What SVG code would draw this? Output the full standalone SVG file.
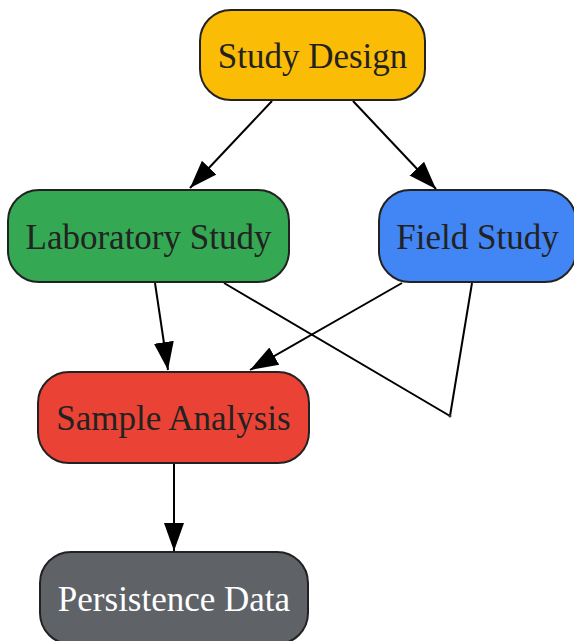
<svg xmlns="http://www.w3.org/2000/svg" width="574" height="641" viewBox="0 0 574 641">
<style>
.n rect{stroke:#222;stroke-width:2}
.n text{font-family:"Liberation Serif","Times New Roman",serif;font-size:35px;text-anchor:middle;fill:#222}
.e line{stroke:#000;stroke-width:2;fill:none}
</style>
<defs>
<marker id="ah" markerUnits="userSpaceOnUse" markerWidth="28" markerHeight="22" refX="28" refY="11" orient="auto" viewBox="0 0 28 22">
<path d="M0,1 L28,11 L0,21 z" fill="#000"/>
</marker>
</defs>
<rect width="574" height="641" fill="#fff"/>
<g class="e" id="edges">
<line x1="272" y1="101" x2="190" y2="188" marker-end="url(#ah)"/>
<line x1="353" y1="101" x2="436" y2="189" marker-end="url(#ah)"/>
<line x1="155" y1="283" x2="168" y2="370" marker-end="url(#ah)"/>
<line x1="402" y1="283" x2="250" y2="370" marker-end="url(#ah)"/>
<line x1="224" y1="283" x2="450" y2="416"/>
<line x1="472" y1="283" x2="450" y2="416"/>
<circle cx="450" cy="416" r="1.5" fill="#333"/>
<line x1="174" y1="464" x2="174" y2="551" marker-end="url(#ah)"/>
</g>
<g class="n" id="study-design">
<rect x="200" y="10" width="225" height="90" rx="31" fill="#FBBC05"/>
<text x="312.5" y="68">Study Design</text>
</g>
<g class="n" id="laboratory-study">
<rect x="8" y="190" width="281" height="92" rx="31" fill="#34A853"/>
<text x="148.5" y="249">Laboratory Study</text>
</g>
<g class="n" id="field-study">
<rect x="379" y="190" width="197" height="92" rx="31" fill="#4285F4"/>
<text x="477.5" y="249">Field Study</text>
</g>
<g class="n" id="sample-analysis">
<rect x="38" y="372" width="271" height="91" rx="31" fill="#EA4335"/>
<text x="173.5" y="430">Sample Analysis</text>
</g>
<g class="n" id="persistence-data">
<rect x="40" y="552" width="268" height="92" rx="31" fill="#5F6368"/>
<text x="174" y="611" style="fill:#fff">Persistence Data</text>
</g>
</svg>
